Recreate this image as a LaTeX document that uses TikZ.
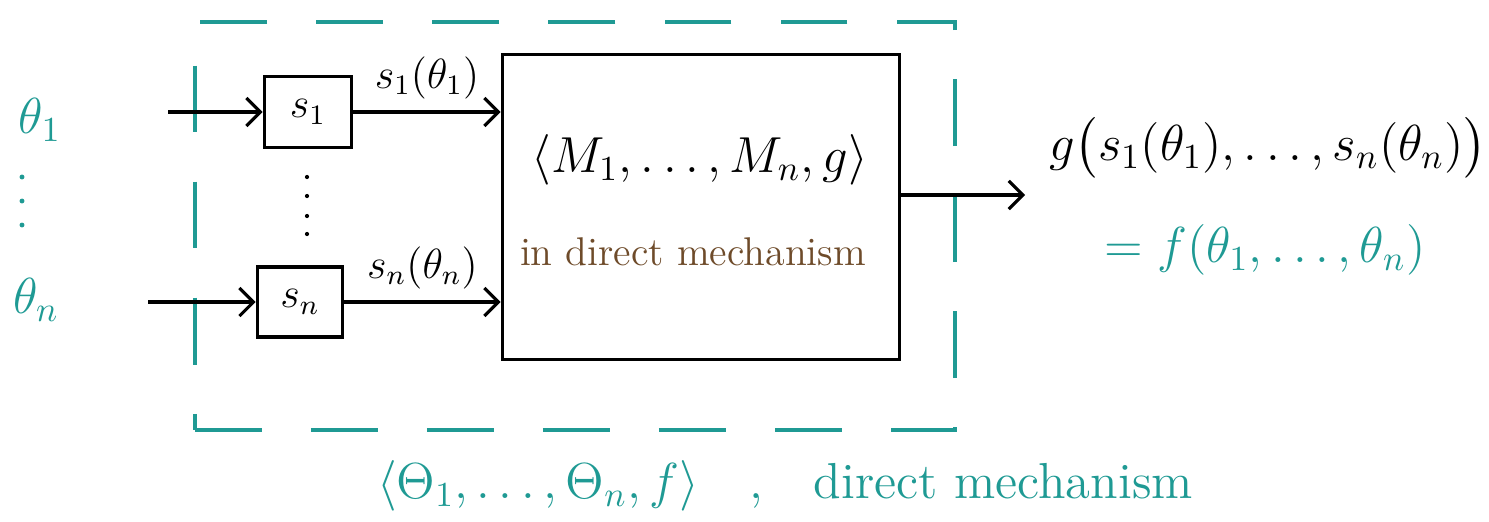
\documentclass[tikz,border=0pt]{standalone}
\usepackage{amsmath,amssymb,xcolor}
\usetikzlibrary{arrows.meta,positioning}
\definecolor{tl}{HTML}{1F9A94}
\definecolor{brn}{HTML}{6E4B2A}
\tikzset{
  box/.style={draw,line width=1pt,inner sep=0pt,align=center},
  dbox/.style={draw=tl,line width=1.1pt,dash pattern=on 19pt off 14pt,inner sep=0pt},
  ar/.style={-{Straight Barb[length=4pt,width=8pt]},line width=0.9pt},
  tlab/.style={text=tl},
}
\begin{document}
\begin{tikzpicture}[x=0.01cm,y=-0.01cm,font=\large]
\useasboundingbox (0,0) rectangle (1489,521);
% outer direct mechanism
\node[dbox,minimum width=7.6cm,minimum height=4.08cm] (direct) at (575,226) {};
\node[tlab,font=\Large] (dlab) at (785,486) {$\langle \Theta_1,\ldots,\Theta_n,f\rangle$\quad,\quad direct mechanism};
% types
\node[tlab,font=\Large] (th1) at (40,120) {$\theta_1$};
\node[tlab,font=\Large] (thn) at (36,300) {$\theta_n$};
\foreach \y in {177,201,225} \fill[tl] (22,\y) circle (0.7pt);
\coordinate (in1) at (168,112);
\coordinate (inn) at (148,302);
% strategies
\node[box,minimum width=0.87cm,minimum height=0.71cm] (s1) at (308,112) {$s_1$};
\node[box,minimum width=0.85cm,minimum height=0.70cm] (sn) at (300,302) {$s_n$};
\foreach \y in {177,196,216,234} \fill (307,\y) circle (0.6pt);
% indirect mechanism
\node[box,minimum width=3.97cm,minimum height=3.05cm] (mech) at (701,207) {};
\node[font=\Large] (mlab) at (700,160) {$\langle M_1,\ldots,M_n,g\rangle$};
\node[text=brn,font=\fontsize{11.4}{13}\selectfont] (ilab) at (693,252) {in direct mechanism};
\draw[ar] (in1) -- (in1 -| s1.west);
\draw[ar] (inn) -- (inn -| sn.west);
\draw[ar] (s1.east) -- node[above] {$s_1(\theta_1)$} (s1.east -| mech.west);
\draw[ar] (sn.east) -- node[above] {$s_n(\theta_n)$} (sn.east -| mech.west);
% outcome
\coordinate (outend) at (1025,195);
\draw[ar] (mech.east |- outend) -- (outend);
\node[font=\Large] (gout) at (1268,148) {$g\bigl(s_1(\theta_1),\ldots,s_n(\theta_n)\bigr)$};
\node[tlab,font=\Large] (fout) at (1265,250) {$=f(\theta_1,\ldots,\theta_n)$};
\end{tikzpicture}
\end{document}
